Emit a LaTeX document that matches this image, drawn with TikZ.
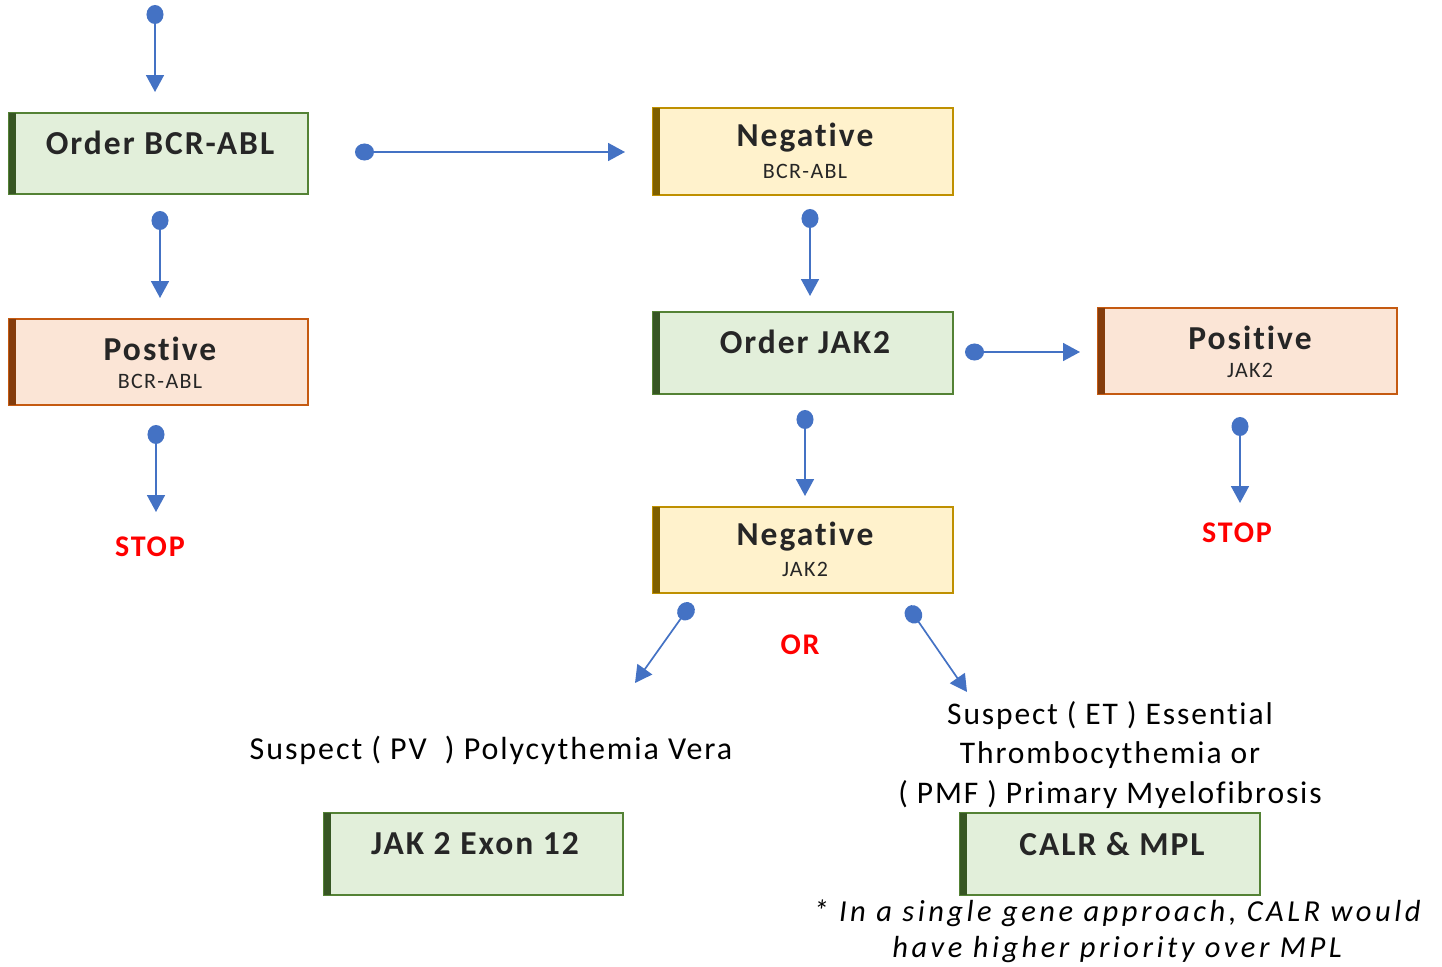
\documentclass[tikz,border=0pt]{standalone}
\usepackage{fontspec}
\setmainfont{Carlito}[Ligatures=CommonOff]
\newfontfamily\spaced[LetterSpace=6,Ligatures=CommonOff]{Carlito}
\newfontfamily\wide[LetterSpace=11.5,Ligatures=CommonOff]{Carlito}
\usetikzlibrary{arrows.meta}
\definecolor{arrowblue}{HTML}{4472C4}
\definecolor{gfill}{HTML}{E2EFDA}\definecolor{gline}{HTML}{548235}\definecolor{gbar}{HTML}{375623}
\definecolor{yfill}{HTML}{FFF2CC}\definecolor{yline}{HTML}{BF9000}\definecolor{ybar}{HTML}{7F6000}
\definecolor{ofill}{HTML}{FBE5D6}\definecolor{oline}{HTML}{C55A11}\definecolor{obar}{HTML}{843C0C}
\definecolor{txt}{HTML}{262626}
\tikzset{
  title/.style={font=\spaced\bfseries\fontsize{33.5}{36}\selectfont, text=txt},
  sub/.style={font=\spaced\fontsize{22}{24}\selectfont, text=txt},
  conn/.style={draw=arrowblue, line width=1.7pt, {Circle[length=19pt,width=17pt]}-{Triangle[length=17pt,width=18pt]}},
  stop/.style={font=\spaced\bfseries\fontsize{30}{32}\selectfont, text=red},
  plain/.style={font=\spaced\fontsize{32}{35}\selectfont, text=black},
}
\begin{document}
\begin{tikzpicture}[x=1pt,y=-1pt]
\useasboundingbox (0,0) rectangle (1442,966);
% boxes
\newcommand{\drawbox}[8]{%
  \path[fill=#6,draw=#7,line width=1.2pt] (#2,#3) rectangle (#4,#5);
  \path[fill=#8] (#2,#3) rectangle ({#2+7},#5);
  \coordinate (#1) at ({(#2+#4)/2},{(#3+#5)/2});
}
\drawbox{b1}{9}{113}{308}{194}{gfill}{gline}{gbar}
\drawbox{b2}{653}{108}{953}{195}{yfill}{yline}{ybar}
\drawbox{b3}{9}{319}{308}{405}{ofill}{oline}{obar}
\drawbox{b4}{653}{312}{953}{394}{gfill}{gline}{gbar}
\drawbox{b5}{1098}{308}{1397}{394}{ofill}{oline}{obar}
\drawbox{b6}{653}{507}{953}{593}{yfill}{yline}{ybar}
\drawbox{b7}{324}{813}{623}{895}{gfill}{gline}{gbar}
\drawbox{b8}{960}{813}{1260}{895}{gfill}{gline}{gbar}
% box texts
\node[title] (t1) at (160,143) {Order BCR-ABL};
\node[title] (t2) at (805,138) {Negative};
\node[sub] (s2) at (805,171) {BCR-ABL};
\node[title] (t3) at (160,349) {Postive};
\node[sub] (s3) at (160,381) {BCR-ABL};
\node[title] (t4) at (805,342) {Order JAK2};
\node[title] (t5) at (1250,338) {Positive};
\node[sub] (s5) at (1250,370) {JAK2};
\node[title] (t6) at (805,537) {Negative};
\node[sub] (s6) at (805,569) {JAK2};
\node[title] (t7) at (475,844) {JAK 2 Exon 12};
\node[title] (t8) at (1112,844) {CALR \& MPL};
% labels
\node[stop] (stop1) at (150,547) {STOP};
\node[stop] (stop2) at (1237,533) {STOP};
\node[stop] (or) at (800,645) {OR};
\node[plain] (pv) at (491,750) {Suspect ( PV~ ) Polycythemia Vera};
\node[align=center, font=\spaced\fontsize{31.5}{39.5}\selectfont] (et) at (1110,755) {Suspect ( ET ) Essential\\Thrombocythemia or\\( PMF ) Primary Myelofibrosis};
\node[align=center, font=\wide\itshape\fontsize{30.5}{36}\selectfont] (note) at (1117,931) {* In a single gene approach, CALR would\\have higher priority over MPL};
% connectors
\coordinate (a1s) at (155,5); \coordinate (a1e) at (155,92);
\coordinate (a2s) at (355,152); \coordinate (a2e) at (625,152);
\coordinate (a3s) at (160,211); \coordinate (a3e) at (160,298);
\coordinate (a4s) at (810,209); \coordinate (a4e) at (810,296);
\coordinate (a5s) at (156,425); \coordinate (a5e) at (156,512);
\coordinate (a6s) at (965,352); \coordinate (a6e) at (1080,352);
\coordinate (a7s) at (805,410); \coordinate (a7e) at (805,496);
\coordinate (a8s) at (1240,417); \coordinate (a8e) at (1240,503);
\coordinate (a9s) at (691.5,603.5); \coordinate (a9e) at (635,683);
\coordinate (a10s) at (908,606.5); \coordinate (a10e) at (967,692);
\foreach \i in {1,...,10} {\draw[conn] (a\i s) -- (a\i e);}
\end{tikzpicture}
\end{document}
